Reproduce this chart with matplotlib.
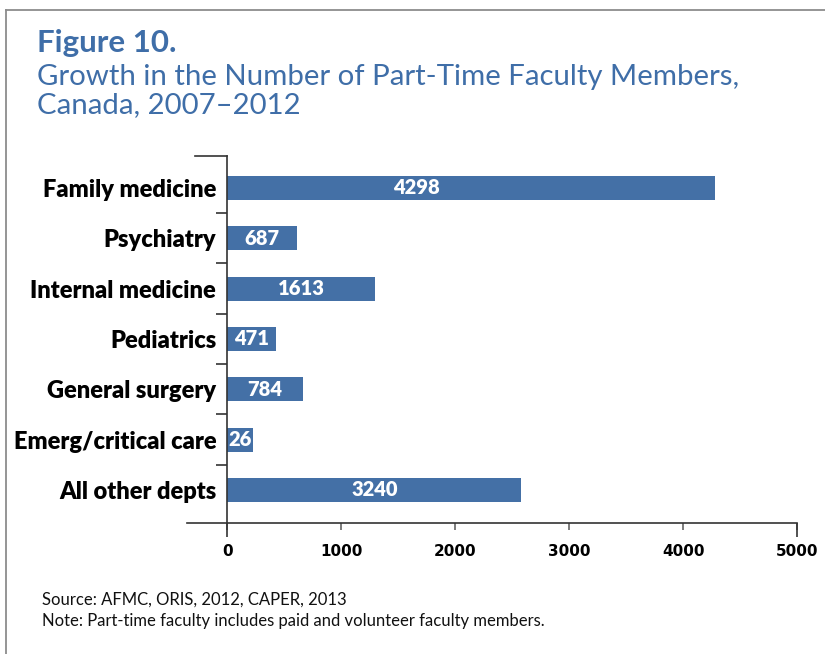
import numpy as np
import matplotlib
matplotlib.use("Agg")
import matplotlib.pyplot as plt
from matplotlib.lines import Line2D

# data (bar lengths don't match the printed labels in the original)
categories = ["Family medicine", "Psychiatry", "Internal medicine", "Pediatrics",
              "General surgery", "Emerg/critical care", "All other depts"]
bar_lengths = [4280, 615, 1295, 430, 660, 228, 2580]
value_labels = ["4298", "687", "1613", "471", "784", "26", "3240"]
x_ticks = [0, 1000, 2000, 3000, 4000, 5000]

blue = "#4470a6"
title_blue = "#3f6ea8"
dark = "#333333"

fig = plt.figure(figsize=(8.25, 6.54), dpi=100)
W, H = 825, 654

# frame (top + left edge only)
fig.add_artist(Line2D([6 / W, 1], [1 - 10 / H, 1 - 10 / H], color="#8c8c8c", lw=1.3))
fig.add_artist(Line2D([6 / W, 6 / W], [0, 1 - 10 / H], color="#8c8c8c", lw=1.3))

fig.text(37 / W, 1 - 52 / H, "Figure 10.", family="Lato", weight="bold",
         fontsize=22.5, color=title_blue)
fig.text(37 / W, 1 - 85 / H, "Growth in the Number of Part-Time Faculty Members,",
         family="Lato", fontsize=21.2, color=title_blue)
fig.text(37 / W, 1 - 113 / H, "Canada, 2007\u20132012",
         family="Lato", fontsize=21.2, color=title_blue)

fig.text(42 / W, 1 - 605 / H, "Source: AFMC, ORIS, 2012, CAPER, 2013",
         family="Lato", fontsize=12, color="#111111")
fig.text(42 / W, 1 - 626 / H, "Note: Part-time faculty includes paid and volunteer faculty members.",
         family="Lato", fontsize=12, color="#111111")

ax = fig.add_axes([187 / W, 1 - 522.7 / H, (797 - 187) / W, (522.7 - 155.7) / H])
y = np.arange(len(categories))
ax.barh(y, bar_lengths, height=0.48, color=blue)

ax.set_xlim(-354, 5000)
ax.set_ylim(6.65, -0.64)

# labels centred in bars, the first one sits left of centre like the original
label_x = [v / 2 for v in bar_lengths]
label_x[0] = 1660
for yi, lx, txt in zip(y, label_x, value_labels):
    ax.text(lx, yi, txt, ha="center", va="center", color="white",
            family="Lato", weight="heavy", fontsize=14.5)

for s in ["top", "right"]:
    ax.spines[s].set_visible(False)
ax.spines["left"].set_position(("data", 0))
for s in ["left", "bottom"]:
    ax.spines[s].set_color(dark)
    ax.spines[s].set_linewidth(1.2)

ax.set_yticks(y)
ax.set_yticklabels(categories, family="Lato", weight="heavy", fontsize=17)
ax.set_yticks(y[:-1] + 0.5, minor=True)
ax.tick_params(axis="y", which="major", length=0, pad=8)
ax.tick_params(axis="y", which="minor", length=8, width=1.2, color=dark)

ax.xaxis.remove_overlapping_locs = False
ax.set_xticks(x_ticks)
ax.set_xticklabels([str(t) for t in x_ticks], family="DejaVu Sans", weight="bold", fontsize=11)
ax.set_xticks([0, 5000], minor=True)
ax.tick_params(axis="x", which="major", length=5, width=1.2, color="#666666", pad=10)
ax.tick_params(axis="x", which="minor", length=10, width=1.2, color=dark)

# long cap at the top of the category axis
ax.plot([-286, 0], [-0.64, -0.64], color=dark, lw=1.2, clip_on=False)

fig.savefig("out.png", dpi=100)
